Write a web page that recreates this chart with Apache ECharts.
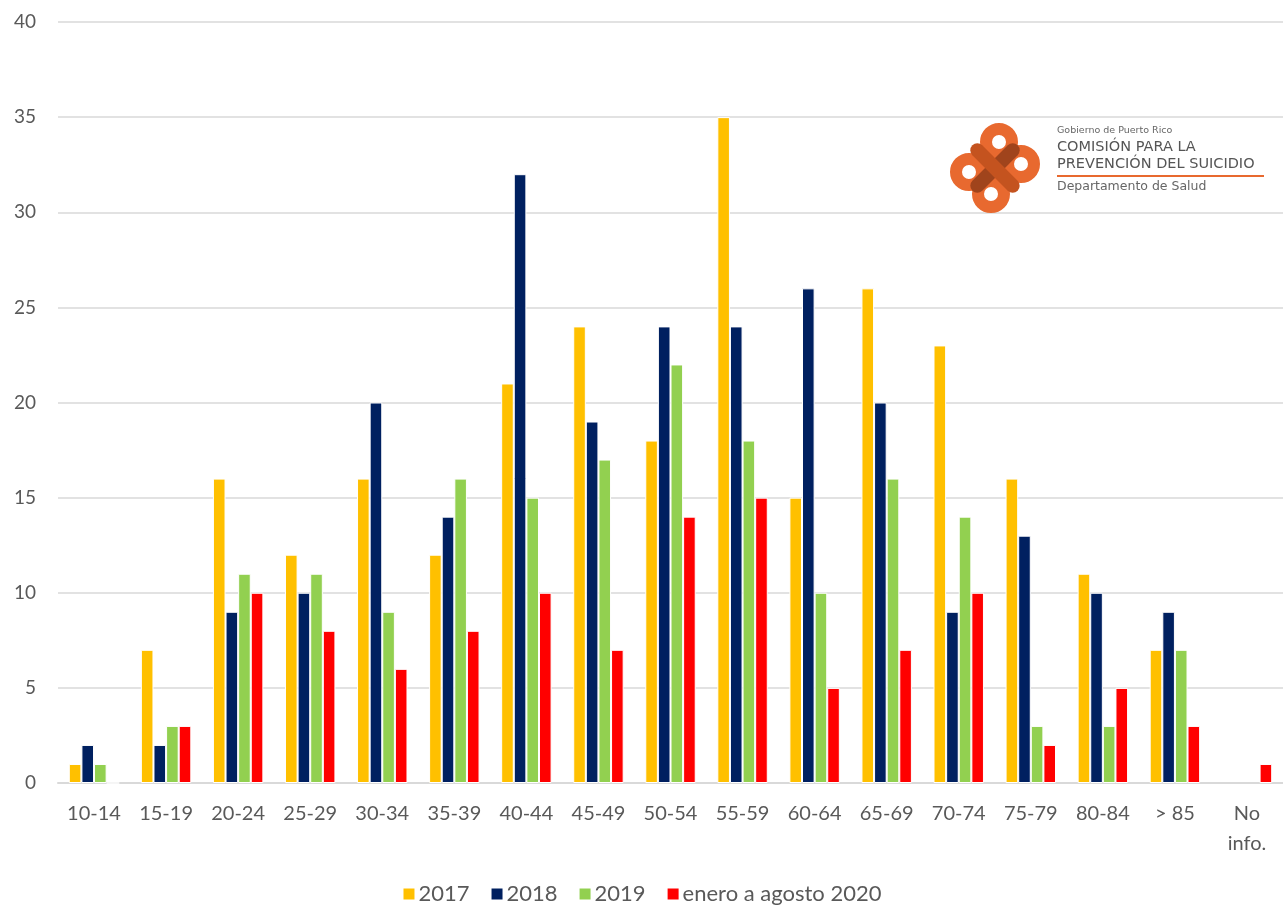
<!DOCTYPE html>
<html>
<head>
<meta charset="utf-8">
<script src="https://cdn.jsdelivr.net/npm/echarts@6/dist/echarts.min.js"></script>
<style>
  html, body { margin: 0; padding: 0; background: #fff; }
  #chart { width: 1283px; height: 910px; }
</style>
</head>
<body>
<div id="chart"></div>
<script>
// grupos de edad
const categorias = ['10-14', '15-19', '20-24', '25-29', '30-34', '35-39', '40-44', '45-49',
    '50-54', '55-59', '60-64', '65-69', '70-74', '75-79', '80-84', '> 85', 'No\ninfo.']
const y2017 = [1, 7, 16, 12, 16, 12, 21, 24, 18, 35, 15, 26, 23, 16, 11, 7, null]
const y2018 = [2, 2, 9, 10, 20, 14, 32, 19, 24, 24, 26, 20, 9, 13, 10, 9, null]
const y2019 = [1, 3, 11, 11, 9, 16, 15, 17, 22, 18, 10, 16, 14, 3, 3, 7, null]
const y2020 = [0, 3, 10, 8, 6, 8, 10, 7, 14, 15, 5, 7, 10, 2, 5, 3, 1]
const yTicks = [0, 5, 10, 15, 20, 25, 30, 35, 40]

const fuente = 'Lato, "DejaVu Sans", sans-serif'
const fuenteLogo = '"DejaVu Sans", sans-serif'
const gris = '#595959'

function serie(nombre, datos, color) {
    return {
        name: nombre,
        type: 'bar',
        data: datos,
        barGap: '0%',
        barCategoryGap: '30%',
        itemStyle: { color: color, borderColor: '#fff', borderWidth: 1 },
    }
}

const chart = echarts.init(document.getElementById('chart'))

// logo de la Comisión (aproximado)
const cx = 995, cy = 168
const anillos = [[4, -26], [26, -4], [-4, 26], [-26, 4]].map(([dx, dy]) => ({
    type: 'circle',
    shape: { cx: cx + dx, cy: cy + dy, r: 13 },
    style: { fill: '#fff', stroke: '#e8692f', lineWidth: 12 },
    z: 10,
}))

chart.setOption({
    animation: false,
    grid: { left: 58, right: 0, top: 22, bottom: 127 },
    legend: {
        bottom: 0,
        left: 'center',
        itemWidth: 13,
        itemHeight: 13,
        itemGap: 20,
        icon: 'rect',
        textStyle: { fontFamily: fuente, fontSize: 22, color: gris, padding: [0, 0, 0, -2] },
    },
    xAxis: {
        type: 'category',
        data: categorias,
        axisLine: { lineStyle: { color: '#d9d9d9', width: 2 } },
        axisTick: { show: false },
        axisLabel: { fontFamily: fuente, fontSize: 20, color: gris, margin: 16, lineHeight: 30, interval: 0 },
    },
    yAxis: {
        type: 'value',
        min: 0,
        max: 40,
        interval: 5,
        axisLine: { show: false },
        axisTick: { show: false },
        splitLine: { lineStyle: { color: '#d9d9d9', width: 1.5 } },
        axisLabel: {
            fontFamily: fuente, fontSize: 19, color: gris, margin: 22,
            formatter: (v) => yTicks.includes(v) ? String(v) : '',
        },
    },
    graphic: [
        ...anillos,
        { type: 'rect', shape: { x: -32, y: -7, width: 64, height: 14, r: 7 }, x: cx, y: cy, rotation: Math.PI / 4,
          style: { fill: '#a0441c' }, z: 11 },
        { type: 'rect', shape: { x: -32, y: -7, width: 64, height: 14, r: 7 }, x: cx, y: cy, rotation: -Math.PI / 4,
          style: { fill: '#c4531f' }, z: 11 },
        { type: 'text', x: 1057, y: 126, z: 12,
          style: { text: 'Gobierno de Puerto Rico', fontFamily: fuenteLogo, fontSize: 9.5, fill: '#666' } },
        { type: 'text', x: 1057, y: 140, z: 12,
          style: { text: 'COMISIÓN PARA LA', fontFamily: fuenteLogo, fontSize: 14.5, fill: '#555' } },
        { type: 'text', x: 1057, y: 157, z: 12,
          style: { text: 'PREVENCIÓN DEL SUICIDIO', fontFamily: fuenteLogo, fontSize: 14.5, fill: '#555' } },
        { type: 'rect', shape: { x: 1057, y: 175, width: 207, height: 2 }, style: { fill: '#e8692f' }, z: 12 },
        { type: 'text', x: 1057, y: 180, z: 12,
          style: { text: 'Departamento de Salud', fontFamily: fuenteLogo, fontSize: 12.5, fill: '#666' } },
    ],
    series: [
        serie('2017', y2017, '#ffc000'),
        serie('2018', y2018, '#002060'),
        serie('2019', y2019, '#92d050'),
        serie('enero a agosto 2020', y2020, '#ff0000'),
    ],
})
</script>
</body>
</html>
